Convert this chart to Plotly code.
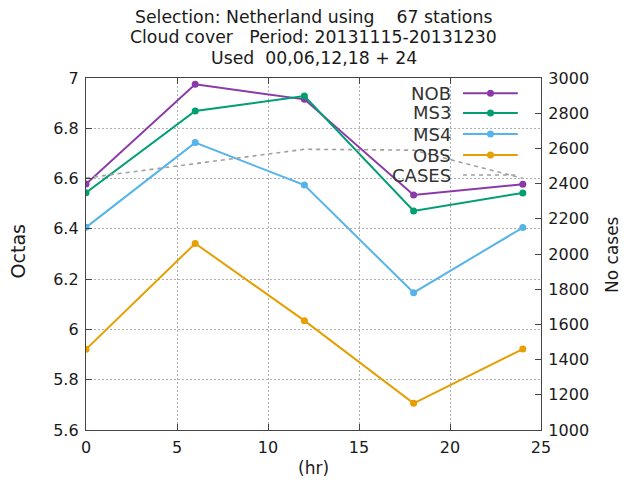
import plotly.graph_objects as go

hours = [0, 6, 12, 18, 24]
nob = [6.578, 6.975, 6.915, 6.535, 6.577]
ms3 = [6.544, 6.869, 6.928, 6.471, 6.543]
ms4 = [6.406, 6.743, 6.574, 6.146, 6.405]
obs = [5.921, 6.342, 6.035, 5.706, 5.922]
cases = [2432, 2515, 2595, 2590, 2430]

series_names = ["NOB", "MS3", "MS4", "OBS"]
series_vals = [nob, ms3, ms4, obs]
colors = ["#8a3aa8", "#009e73", "#56b4e9", "#e69f00"]
cases_color = "#a0a0a0"

y_ticks = [5.6, 5.8, 6.0, 6.2, 6.4, 6.6, 6.8, 7.0]
y_ticklabels = ["5.6", "5.8", "6", "6.2", "6.4", "6.6", "6.8", "7"]
y2_ticks = [1000, 1200, 1400, 1600, 1800, 2000, 2200, 2400, 2600, 2800, 3000]
x_ticks = [0, 5, 10, 15, 20, 25]

FONT = "DejaVu Sans"
TXT = "#1a1a1a"
GRID = "#b0b0b0"
fig = go.Figure()

for name, vals, col in zip(series_names, series_vals, colors):
    fig.add_trace(go.Scatter(x=hours, y=vals, name=name, mode="lines+markers",
                             line=dict(color=col, width=2),
                             marker=dict(color=col, size=7, symbol="circle"),
                             showlegend=False))

fig.add_trace(go.Scatter(x=hours, y=cases, name="CASES", mode="lines", yaxis="y2",
                         line=dict(color=cases_color, width=1.6, dash="4px,4px"),
                         showlegend=False))

# manual gnuplot-style key
shapes = [dict(type="rect", xref="paper", yref="paper", x0=0.6725, x1=0.9714,
               y0=0.6932, y1=0.9886, fillcolor="white", line=dict(width=0), layer="between")]
annotations = []
key_y = [0.957, 0.9006, 0.8409, 0.78125, 0.7244]
key_names = series_names + ["CASES"]
key_colors = colors + [cases_color]
for i, (nm, col) in enumerate(zip(key_names, key_colors)):
    ky = key_y[i]
    annotations.append(dict(text=nm, x=0.806, y=ky, xref="paper", yref="paper",
                            xanchor="right", yanchor="middle", showarrow=False,
                            font=dict(family=FONT, size=18, color="#333")))
    if nm == "CASES":
        shapes.append(dict(type="line", xref="paper", yref="paper", x0=0.8286, x1=0.949,
                           y0=ky, y1=ky, line=dict(color=col, width=1.6, dash="4px,4px"),
                           layer="above"))
    else:
        shapes.append(dict(type="line", xref="paper", yref="paper", x0=0.8286, x1=0.949,
                           y0=ky, y1=ky, line=dict(color=col, width=2), layer="above"))
        shapes.append(dict(type="circle", xref="paper", yref="paper",
                           xsizemode="pixel", ysizemode="pixel", xanchor=0.889, yanchor=ky,
                           x0=-3.5, x1=3.5, y0=-3.5, y1=3.5,
                           fillcolor=col, line=dict(width=0), layer="above"))

annotations += [
    dict(text="Octas", x=-0.149, y=0.508, xref="paper", yref="paper", textangle=-90,
         xanchor="center", yanchor="middle",
         showarrow=False, font=dict(family=FONT, size=19, color=TXT)),
    dict(text="No cases", x=1.156, y=0.5, xref="paper", yref="paper", textangle=-90,
         xanchor="center", yanchor="middle",
         showarrow=False, font=dict(family=FONT, size=17, color=TXT)),
    dict(text="(hr)", x=0.499, y=-0.108, xref="paper", yref="paper",
         xanchor="center", yanchor="middle",
         showarrow=False, font=dict(family=FONT, size=17, color=TXT)),
]

sp = "\u00a0"
title_lines = [f"Selection: Netherland using{sp*4}67 stations",
               f"Cloud cover{sp*3}Period: 20131115-20131230",
               f"Used{sp}{sp}00,06,12,18{sp}+{sp}24"]
title_y = [1.1733, 1.1165, 1.0568]
for t, ty in zip(title_lines, title_y):
    annotations.append(dict(text=t, x=0.5, y=ty, xref="paper", yref="paper",
                            xanchor="center", yanchor="middle", showarrow=False,
                            font=dict(family=FONT, size=17.3, color=TXT)))

axis_common = dict(showline=True, linecolor="#444", linewidth=1.3, ticks="inside",
                   ticklen=6, tickcolor="#444", zeroline=False, automargin=False,
                   ticklabelstandoff=3,
                   tickfont=dict(family=FONT, size=16, color=TXT))

fig.update_layout(
    width=619, height=479,
    margin=dict(l=78, r=86, t=70, b=57, autoexpand=False),
    paper_bgcolor="white", plot_bgcolor="white",
    xaxis=dict(range=[0, 25], tickvals=x_ticks, mirror="ticks", showgrid=True,
               gridcolor=GRID, griddash="1.5px,2.5px", gridwidth=1, **axis_common),
    yaxis=dict(range=[5.6, 7.0], tickvals=y_ticks, ticktext=y_ticklabels, mirror=True,
               showgrid=True, gridcolor=GRID, griddash="1.5px,2.5px", gridwidth=1, **axis_common),
    yaxis2=dict(range=[1000, 3000], tickvals=y2_ticks, overlaying="y", side="right",
                showgrid=False, **axis_common),
    shapes=shapes, annotations=annotations, showlegend=False,
)

fig.write_html("out.html")
